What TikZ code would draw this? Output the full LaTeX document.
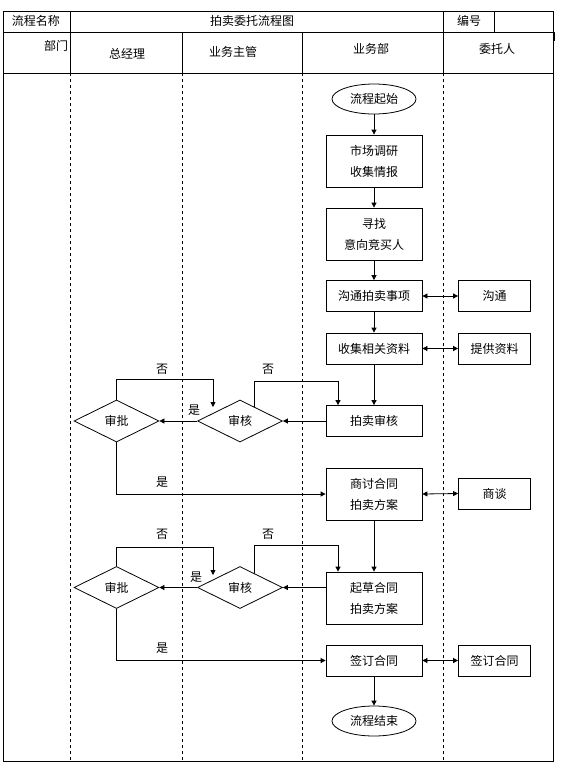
\documentclass[tikz,border=0pt]{standalone}
\usepackage{fontspec}
\setmainfont{Noto Sans CJK SC}
\usetikzlibrary{shapes.geometric,arrows.meta,calc}
\begin{document}
\begin{tikzpicture}[x=1pt,y=-1pt, line width=0.8pt,
  every node/.style={font=\fontsize{12}{21}\selectfont},
  proc/.style={draw, minimum width=96pt, minimum height=31pt, align=center, inner sep=0pt},
  tall/.style={proc, minimum height=52pt},
  cli/.style={draw, minimum width=72pt, minimum height=31pt, inner sep=0pt},
  dec/.style={draw, diamond, minimum width=85pt, minimum height=42pt, inner sep=0pt},
  term/.style={draw, ellipse, minimum width=84pt, minimum height=30pt, inner sep=0pt},
  arr/.style={-{Triangle[length=5pt,width=5pt]}},
  darr/.style={{Triangle[length=5pt,width=5pt]}-{Triangle[length=5pt,width=5pt]}},
  lane/.style={dash pattern=on 3pt off 3pt},
  lbl/.style={inner sep=0pt}
]
\useasboundingbox (0,0) rectangle (566,780);
% frame
\draw (3,11) rectangle (553,761);
\draw (3,32) -- (553,32);
\draw (3,73) -- (553,73);
\draw (70,11) -- (70,73);
\draw (443,11) -- (443,73);
\draw (494,11) -- (494,32);
\draw (182,32) -- (182,73);
\draw (302,32) -- (302,73);
\draw[line width=2pt] (554,32) -- (554,41);
\foreach \x in {70,182,302,443} \draw[lane] (\x,73) -- (\x,761);
% header texts
\node[lbl] (h1) at (36,21) {流程名称};
\node[lbl] (h2) at (252,21) {拍卖委托流程图};
\node[lbl] (h3) at (469,21) {编号};
\node[lbl] (h4) at (56,46) {部门};
\node[lbl] (h5) at (127,54) {总经理};
\node[lbl] (h6) at (233,52) {业务主管};
\node[lbl] (h7) at (371,49) {业务部};
\node[lbl] (h8) at (497,49) {委托人};
% main lane
\node[term] (start) at (374,99) {流程起始};
\node[tall] (b1) at (374,161) {市场调研\\收集情报};
\node[tall] (b2) at (374,234) {寻找\\意向竞买人};
\node[proc] (b3) at (374,296) {沟通拍卖事项};
\node[proc] (b4) at (374,348.5) {收集相关资料};
\node[proc] (b5) at (374,421) {拍卖审核};
\node[tall] (b6) at (374,494) {商讨合同\\拍卖方案};
\node[tall] (b7) at (374,598) {起草合同\\拍卖方案};
\node[proc] (b8) at (374,660.5) {签订合同};
\node[term] (end) at (374,721) {流程结束};
% client lane
\node[cli] (c1) at (494.5,296) {沟通};
\node[cli] (c2) at (494.5,348.5) {提供资料};
\node[cli] (c3) at (494.5,493.5) {商谈};
\node[cli] (c4) at (494.5,660.5) {签订合同};
% decisions
\node[dec] (d1) at (240,421) {审核};
\node[dec] (a1) at (116.5,421) {审批};
\node[dec] (d2) at (240,587.5) {审核};
\node[dec] (a2) at (116.5,587.5) {审批};
% vertical flow
\draw[arr] (start) -- (b1);
\draw[arr] (b1) -- (b2);
\draw[arr] (b2) -- (b3);
\draw[arr] (b3) -- (b4);
\draw[arr] (b4) -- (b5);
\draw[arr] (b6) -- (b7);
\draw[arr] (b8) -- (end);
% two-way
\draw[darr] (b3.east) -- (c1.west);
\draw[darr] (b4.east) -- (c2.west);
\draw[darr] (b6.east) -- (c3.west);
\draw[darr] (b8.east) -- (c4.west);
% first review group
\draw[arr] (b5.west) -- (d1.east);
\draw[arr] (d1.west) -- (a1.east);
\node[lbl] (y1) at (194,410) {是};
\coordinate (d1ne) at ($(d1.north)!0.33!(d1.east)$);
\coordinate (k1) at (338,381);
\draw[arr] (d1ne) |- (k1) -- (k1 |- b5.north);
\node[lbl] (n1) at (268,369) {否};
\coordinate (k2) at (213,379);
\coordinate (k2e) at (213,407);
\draw[arr] (a1.north) |- (k2) -- (k2e);
\node[lbl] (n2) at (162,369) {否};
\draw[arr] (a1.south) |- (b6.west);
\node[lbl] (y2) at (162,482) {是};
% second review group
\draw[arr] (b7.west |- d2.east) -- (d2.east);
\draw[arr] (d2.west) -- (a2.east);
\node[lbl] (y3) at (196,577) {是};
\coordinate (d2ne) at ($(d2.north)!0.33!(d2.east)$);
\coordinate (k3) at (338,545);
\draw[arr] (d2ne) |- (k3) -- (k3 |- b7.north);
\node[lbl] (n3) at (268,534) {否};
\coordinate (k4) at (213,547);
\coordinate (k4e) at (213,575);
\draw[arr] (a2.north) |- (k4) -- (k4e);
\node[lbl] (n4) at (162,534) {否};
\draw[arr] (a2.south) |- (b8.west);
\node[lbl] (y4) at (162,648) {是};
\end{tikzpicture}
\end{document}
